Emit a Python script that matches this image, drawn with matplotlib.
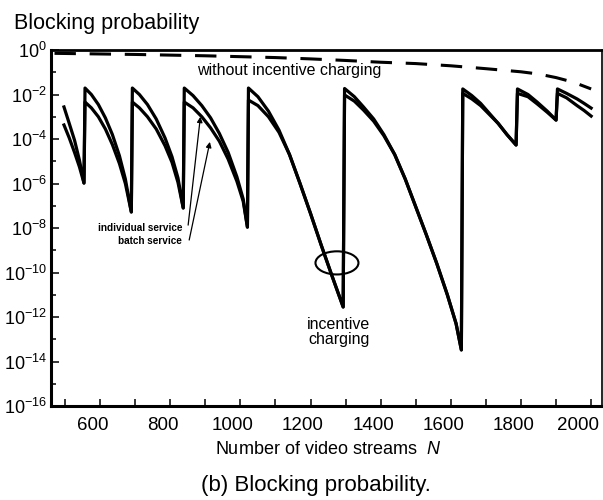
import numpy as np
import matplotlib
matplotlib.use("Agg")
import matplotlib.pyplot as plt
from matplotlib.patches import Ellipse
from matplotlib.ticker import FixedLocator, NullFormatter
from matplotlib.transforms import ScaledTranslation

# values: N and log10(blocking probability)
individual_n = [497, 512, 527, 541, 554,
                557, 575, 595, 615, 635, 655, 672, 689,
                692, 712, 735, 760, 785, 805, 822, 837,
                840, 865, 890, 915, 940, 965, 990, 1008, 1020,
                1023, 1050, 1080, 1110, 1140, 1170, 1200, 1230, 1260, 1293,
                1297, 1325, 1351, 1380, 1409, 1440, 1470, 1500, 1530, 1560, 1590, 1615, 1630,
                1634, 1660, 1685, 1710, 1735, 1760, 1786,
                1790, 1820, 1846, 1875, 1900,
                1904, 1930, 1960, 1980, 2000]
individual_exp = [-2.56, -3.3, -4.05, -4.95, -5.98,
                  -1.71, -2.0, -2.45, -3.05, -3.8, -4.75, -5.8, -7.28,
                  -1.71, -2.0, -2.45, -3.1, -3.95, -4.8, -5.75, -7.10,
                  -1.71, -2.05, -2.5, -3.05, -3.75, -4.6, -5.7, -6.7, -7.96,
                  -1.71, -2.1, -2.75, -3.6, -4.7, -6.0, -7.35, -8.75, -10.1, -11.55,
                  -1.73, -2.1, -2.56, -3.1, -3.8, -4.7, -5.8, -7.05, -8.3, -9.6, -11.0, -12.3, -13.48,
                  -1.75, -2.05, -2.4, -2.85, -3.3, -3.8, -4.27,
                  -1.75, -2.0, -2.34, -2.75, -3.15,
                  -1.75, -1.95, -2.2, -2.4, -2.61]

batch_n = [497, 512, 527, 541, 554,
           557, 575, 595, 615, 635, 655, 672, 689,
           692, 712, 735, 760, 785, 805, 822, 837,
           840, 865, 890, 915, 940, 965, 990, 1008, 1020,
           1023, 1050, 1080, 1110, 1140, 1170, 1200, 1230, 1260, 1293,
           1297, 1325, 1351, 1380, 1409, 1440, 1470, 1500, 1530, 1560, 1590, 1615, 1630,
           1634, 1660, 1685, 1710, 1735, 1760, 1786,
           1790, 1820, 1846, 1875, 1900,
           1904, 1930, 1960, 1980, 2000]
batch_exp = [-3.37, -3.95, -4.6, -5.25, -5.98,
             -2.34, -2.6, -3.0, -3.55, -4.25, -5.1, -6.0, -7.28,
             -2.34, -2.6, -3.0, -3.55, -4.3, -5.05, -5.95, -7.10,
             -2.34, -2.6, -3.0, -3.5, -4.1, -4.9, -5.9, -6.8, -7.96,
             -2.25, -2.5, -3.0, -3.7, -4.7, -6.0, -7.35, -8.75, -10.1, -11.55,
             -2.02, -2.3, -2.7, -3.2, -3.85, -4.7, -5.8, -7.05, -8.3, -9.6, -11.0, -12.3, -13.48,
             -1.95, -2.2, -2.5, -2.9, -3.3, -3.8, -4.27,
             -1.95, -2.1, -2.42, -2.8, -3.15,
             -1.95, -2.15, -2.5, -2.72, -2.97]

# without incentive charging (dashed)
no_incentive_n = [470, 700, 900, 1100, 1200, 1300, 1400, 1500, 1600, 1700,
                  1800, 1850, 1900, 1950, 2000]
no_incentive_exp = [-0.15, -0.2, -0.26, -0.34, -0.40, -0.47, -0.55, -0.61,
                    -0.71, -0.84, -0.98, -1.08, -1.24, -1.45, -1.75]

x_ticks = list(range(500, 2001, 100))
x_tick_labels = ["" if t % 200 else str(t) for t in x_ticks]
y_major_exp = [0, -2, -4, -6, -8, -10, -12, -14, -16]
y_minor_exp = [-1, -3, -5, -7, -9, -11, -13, -15]

plt.rcParams['font.family'] = ['Liberation Sans', 'DejaVu Sans']
plt.rcParams['mathtext.fontset'] = 'custom'
plt.rcParams['mathtext.rm'] = 'Liberation Sans'
plt.rcParams['mathtext.it'] = 'Liberation Sans:italic'
plt.rcParams['mathtext.bf'] = 'Liberation Sans:bold'

fig = plt.figure(figsize=(6.03, 5.0), dpi=100)
ax = fig.add_axes([51 / 603, 94 / 500, 551 / 603, 356 / 500])

ax.semilogy(individual_n, 10.0 ** np.array(individual_exp), color='black', lw=2.3)
ax.semilogy(batch_n, 10.0 ** np.array(batch_exp), color='black', lw=2.3)
ax.semilogy(no_incentive_n, 10.0 ** np.array(no_incentive_exp), color='black',
            lw=2.2, dashes=(7, 4.5))

ax.set_xlim(460, 2031)
ax.set_ylim(1e-16, 1e0)

ax.set_xticks(x_ticks)
ax.set_xticklabels(x_tick_labels)
ax.set_yticks([10.0 ** e for e in y_major_exp])
ax.set_yticklabels([r'$10^{%d}$' % e for e in y_major_exp])
ax.yaxis.set_minor_locator(FixedLocator([10.0 ** e for e in y_minor_exp]))
ax.yaxis.set_minor_formatter(NullFormatter())
ax.xaxis.set_minor_locator(FixedLocator([]))

ax.tick_params(axis='x', direction='in', length=5, width=1.1, labelsize=13.5, pad=8)
ax.tick_params(axis='y', which='major', direction='in', length=6, width=1.1,
               labelsize=13, pad=3)
ax.tick_params(axis='y', which='minor', direction='in', length=3.5, width=1.1)

# the x labels sit a little left of their ticks in the original
for lab in ax.get_xticklabels():
    dx = -13 if lab.get_text() == '2000' else -7.5
    lab.set_transform(lab.get_transform() + ScaledTranslation(dx / 100, 0, fig.dpi_scale_trans))

ax.spines['left'].set_linewidth(2.2)
ax.spines['bottom'].set_linewidth(2.2)
ax.spines['top'].set_linewidth(2.0)
ax.spines['right'].set_linewidth(1.2)

# annotations
ax.text(876, 10 ** -0.9, 'without incentive charging', fontsize=11.5,
        ha='left', va='center')
ax.text(1281, 10 ** -12.67, 'incentive\ncharging', fontsize=11.5,
        ha='center', va='center', linespacing=0.95)
ax.add_patch(Ellipse((0.519, 0.402), 0.078, 0.065, transform=ax.transAxes,
                     fill=False, lw=1.5, color='black'))

ax.text(834, 10 ** -8.0, 'individual service', fontsize=7.2, fontweight='bold',
        ha='right', va='center')
ax.text(834, 10 ** -8.58, 'batch service', fontsize=7.2, fontweight='bold',
        ha='right', va='center')
ax.annotate('', xy=(886, 10 ** -3.0), xytext=(851, 10 ** -7.87),
            arrowprops=dict(arrowstyle='-|>', lw=0.9, color='black',
                            mutation_scale=8, shrinkA=0, shrinkB=0))
ax.annotate('', xy=(913, 10 ** -4.13), xytext=(854, 10 ** -8.54),
            arrowprops=dict(arrowstyle='-|>', lw=0.9, color='black',
                            mutation_scale=8, shrinkA=0, shrinkB=0))

fig.text(14 / 603, 1 - 23 / 500, 'Blocking probability', fontsize=15.5,
         ha='left', va='center')
fig.text(328 / 603, 1 - 450 / 500, 'Number of video streams  $N$', fontsize=13,
         ha='center', va='center')
fig.text(316 / 603, 1 - 485 / 500, '(b) Blocking probability.', fontsize=16,
         ha='center', va='center')

fig.savefig('out.png', dpi=100)
